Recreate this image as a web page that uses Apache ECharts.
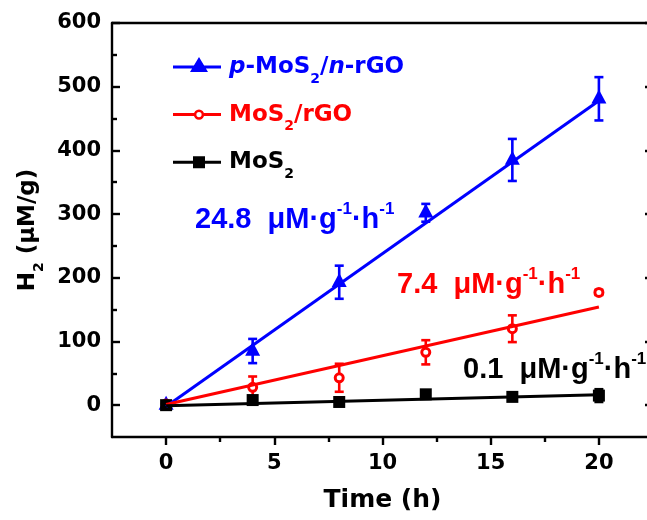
<!DOCTYPE html>
<html>
<head>
<meta charset="utf-8">
<script src="https://cdn.jsdelivr.net/npm/echarts@6/dist/echarts.min.js"></script>
<style>
  html, body { margin: 0; padding: 0; background: #ffffff; }
  #chart { width: 647px; height: 520px; }
</style>
</head>
<body>
<div id="chart"></div>
<script>
// Hydrogen evolution vs. irradiation time for three photocatalysts
const hours = [0, 4, 8, 12, 16, 20];
const pnYield = [0, 85, 193, 302, 385, 481];
const pnErr = [3, 19, 26, 14, 33, 34];
const rgoYield = [2, 28, 43, 83, 120, 177];
const rgoErr = [3, 17, 22, 19, 21, 4];
const mosYield = [0, 8, 5, 17, 13, 15];
const mosErr = [2, 3, 4, 4, 4, 10];

// Linear fits (end points at 0 h and 20 h)
const fitHours = [0, 20];
const pnFit = [-2, 478];
const rgoFit = [1, 154];
const mosFit = [-1, 16.5];

// Ticks
const xMajor = [0, 5, 10, 15, 20];
const xMinor = [2.5, 7.5, 12.5, 17.5];
const yMajor = [0, 100, 200, 300, 400, 500, 600];
const yMinor = [50, 150, 250, 350, 450, 550];

const seriesNames = ['p-MoS2/n-rGO', 'MoS2/rGO', 'MoS2'];
const rates = ['24.8', '7.4', '0.1'];

const BLUE = '#0000ff', RED = '#ff0000', BLACK = '#000000';
const SANS = 'DejaVu Sans';
const ARIAL = 'Liberation Sans';

const pairs = (xs, ys) => xs.map((x, i) => [x, ys[i]]);
const triples = (xs, ys, es) => xs.map((x, i) => [x, ys[i], es[i]]);

// Rich-text styles: subscripts / superscripts shifted with asymmetric padding
const legendRich = {
  t: { fontFamily: SANS, fontWeight: 'bold', fontSize: 23, lineHeight: 32, verticalAlign: 'middle' },
  t0: { fontFamily: SANS, fontWeight: 'bold', fontSize: 23, lineHeight: 32, verticalAlign: 'middle', padding: [0, 0, 0, 3] },
  i0: { fontFamily: SANS, fontWeight: 'bold', fontStyle: 'italic', fontSize: 23, lineHeight: 32, verticalAlign: 'middle', padding: [0, 0, 0, 3] },
  i: { fontFamily: SANS, fontWeight: 'bold', fontStyle: 'italic', fontSize: 23, lineHeight: 32, verticalAlign: 'middle' },
  s: { fontFamily: SANS, fontWeight: 'bold', fontSize: 14, lineHeight: 6, padding: [24, 0, 0, 0], verticalAlign: 'middle' }
};

function legendLabel(name) {
  if (name === seriesNames[0]) return '{i0|p}{t|-MoS}{s|2}{t|/}{i|n}{t|-rGO}';
  if (name === seriesNames[1]) return '{t0|MoS}{s|2}{t|/rGO}';
  return '{t0|MoS}{s|2}';
}

const rateRich = {
  n: { fontFamily: ARIAL, fontWeight: 'bold', fontSize: 29, lineHeight: 36, verticalAlign: 'middle' },
  p: { fontFamily: ARIAL, fontWeight: 'bold', fontSize: 17, lineHeight: 4, padding: [0, 0, 22, 0], verticalAlign: 'middle' }
};
const rateText = r => `{n|${r}  μM·g}{p|-1}{n|·h}{p|-1}`;

// Legend icons: line segment with the marker drawn on it (48 x 20 box)
const lineBar = 'M0,8.5L48,8.5L48,11.5L0,11.5Z';
const boxPts = 'M0,0L0,0Z M0,20L0,20Z';
const triIcon = 'path://' + lineBar + ' M26,0L35,15L17,15Z ' + boxPts;
const ringIcon = 'path://M0,8.5L21,8.5L21,11.5L0,11.5Z M31,8.5L48,8.5L48,11.5L31,11.5Z ' +
  'M31.2,10A5.2,5.2 0 1,1 20.8,10A5.2,5.2 0 1,1 31.2,10Z ' +
  'M28.6,10A2.6,2.6 0 1,0 23.4,10A2.6,2.6 0 1,0 28.6,10Z ' + boxPts;
const sqIcon = 'path://' + lineBar + ' M20,4L32,4L32,16L20,16Z ' + boxPts;

function errorBars(data, color) {
  return {
    type: 'custom',
    xAxisIndex: 0, yAxisIndex: 0,
    silent: true,
    data: data,
    renderItem: function (params, api) {
      const x = api.value(0), y = api.value(1), e = api.value(2);
      const top = api.coord([x, y + e]);
      const bot = api.coord([x, y - e]);
      const hw = 4.5;
      const st = { stroke: color, lineWidth: 2.6 };
      return {
        type: 'group',
        children: [
          { type: 'line', shape: { x1: top[0], y1: top[1], x2: bot[0], y2: bot[1] }, style: st },
          { type: 'line', shape: { x1: top[0] - hw, y1: top[1], x2: top[0] + hw, y2: top[1] }, style: st },
          { type: 'line', shape: { x1: bot[0] - hw, y1: bot[1], x2: bot[0] + hw, y2: bot[1] }, style: st }
        ]
      };
    }
  };
}

function fitLine(ys, color) {
  return {
    type: 'line', xAxisIndex: 0, yAxisIndex: 0,
    data: pairs(fitHours, ys), symbol: 'none', silent: true,
    lineStyle: { color: color, width: 3 }
  };
}

const axisLineStyle = { color: BLACK, width: 2.4 };
const tickLabel = { color: BLACK, fontFamily: SANS, fontWeight: 'bold', fontSize: 21 };

const xCommon = { type: 'value', min: -2.5, max: 22.5, gridIndex: 0, splitLine: { show: false } };
const yCommon = { type: 'value', min: -50, max: 600, gridIndex: 0, splitLine: { show: false } };

const option = {
  animation: false,
  backgroundColor: '#ffffff',
  grid: { left: 112, top: 23, right: -6, bottom: 83, containLabel: false, outerBoundsMode: 'none' },
  xAxis: [
    Object.assign({}, xCommon, {
      position: 'bottom',
      name: 'Time (h)', nameLocation: 'middle', nameGap: 51,
      nameTextStyle: { color: BLACK, fontFamily: SANS, fontWeight: 'bold', fontSize: 25 },
      axisLine: { show: true, onZero: false, lineStyle: axisLineStyle },
      axisTick: { show: true, inside: false, length: 8, customValues: xMajor, lineStyle: { color: BLACK, width: 2.4 } },
      axisLabel: Object.assign({ show: true, margin: 16, customValues: xMajor }, tickLabel)
    }),
    Object.assign({}, xCommon, {
      position: 'bottom',
      axisLine: { show: false, onZero: false },
      axisTick: { show: true, inside: false, length: 5, customValues: xMinor, lineStyle: { color: BLACK, width: 2.4 } },
      axisLabel: { show: false }
    }),
    Object.assign({}, xCommon, {
      position: 'top',
      axisLine: { show: true, onZero: false, lineStyle: axisLineStyle },
      axisTick: { show: false },
      axisLabel: { show: false }
    })
  ],
  yAxis: [
    Object.assign({}, yCommon, {
      position: 'left',
      name: '{b|H}{s|2}{b| (μM/g)}', nameLocation: 'middle', nameGap: 66,
      nameTextStyle: {
        color: BLACK,
        rich: {
          b: { fontFamily: SANS, fontWeight: 'bold', fontSize: 23, lineHeight: 30, verticalAlign: 'middle' },
          s: { fontFamily: SANS, fontWeight: 'bold', fontSize: 14, lineHeight: 6, padding: [22, 0, 0, 0], verticalAlign: 'middle' }
        }
      },
      axisLine: { show: true, onZero: false, lineStyle: axisLineStyle },
      axisTick: { show: true, inside: true, length: 8, customValues: yMajor, lineStyle: { color: BLACK, width: 2.4 } },
      axisLabel: Object.assign({ show: true, margin: 11, customValues: yMajor }, tickLabel)
    }),
    Object.assign({}, yCommon, {
      position: 'left',
      axisLine: { show: false, onZero: false },
      axisTick: { show: true, inside: true, length: 5, customValues: yMinor, lineStyle: { color: BLACK, width: 2.4 } },
      axisLabel: { show: false }
    }),
    Object.assign({}, yCommon, {
      position: 'right',
      axisLine: { show: true, onZero: false, lineStyle: axisLineStyle },
      axisTick: { show: true, inside: true, length: 8, customValues: yMajor, lineStyle: { color: BLACK, width: 2.4 } },
      axisLabel: { show: false }
    })
  ],
  legend: {
    show: true, orient: 'vertical', left: 173, top: 48, padding: 0,
    itemWidth: 48, itemHeight: 20, itemGap: 9.6, selectedMode: false,
    formatter: legendLabel,
    textStyle: { rich: legendRich },
    data: [
      { name: seriesNames[0], icon: triIcon, itemStyle: { color: BLUE, borderWidth: 0 }, textStyle: { color: BLUE } },
      { name: seriesNames[1], icon: ringIcon, itemStyle: { color: RED, borderWidth: 0 }, textStyle: { color: RED } },
      { name: seriesNames[2], icon: sqIcon, itemStyle: { color: BLACK, borderWidth: 0 }, textStyle: { color: BLACK } }
    ]
  },
  graphic: {
    elements: [
      { type: 'text', x: 195, y: 220, silent: true,
        style: { text: rateText(rates[0]), rich: rateRich, fill: BLUE, align: 'left', verticalAlign: 'middle' } },
      { type: 'text', x: 397, y: 285, silent: true,
        style: { text: rateText(rates[1]), rich: rateRich, fill: RED, align: 'left', verticalAlign: 'middle' } },
      { type: 'text', x: 463, y: 370, silent: true,
        style: { text: rateText(rates[2]), rich: rateRich, fill: BLACK, align: 'left', verticalAlign: 'middle' } }
    ]
  },
  series: [
    fitLine(pnFit, BLUE),
    fitLine(rgoFit, RED),
    fitLine(mosFit, BLACK),
    errorBars(triples(hours, pnYield, pnErr), BLUE),
    errorBars(triples(hours, rgoYield, rgoErr), RED),
    errorBars(triples(hours, mosYield, mosErr), BLACK),
    {
      name: seriesNames[0], type: 'scatter', xAxisIndex: 0, yAxisIndex: 0,
      data: pairs(hours, pnYield), symbol: 'triangle', symbolSize: [15, 14], symbolOffset: [0, -2.3],
      itemStyle: { color: BLUE, opacity: 1 }
    },
    {
      name: seriesNames[1], type: 'scatter', xAxisIndex: 0, yAxisIndex: 0,
      data: pairs(hours, rgoYield), symbol: 'circle', symbolSize: 8,
      itemStyle: { color: '#ffffff', borderColor: RED, borderWidth: 3, opacity: 1 }
    },
    {
      name: seriesNames[2], type: 'scatter', xAxisIndex: 0, yAxisIndex: 0,
      data: pairs(hours, mosYield), symbol: 'rect', symbolSize: 12,
      itemStyle: { color: BLACK, opacity: 1 }
    }
  ]
};

const chart = echarts.init(document.getElementById('chart'), null, { renderer: 'canvas' });
chart.setOption(option);
</script>
</body>
</html>
